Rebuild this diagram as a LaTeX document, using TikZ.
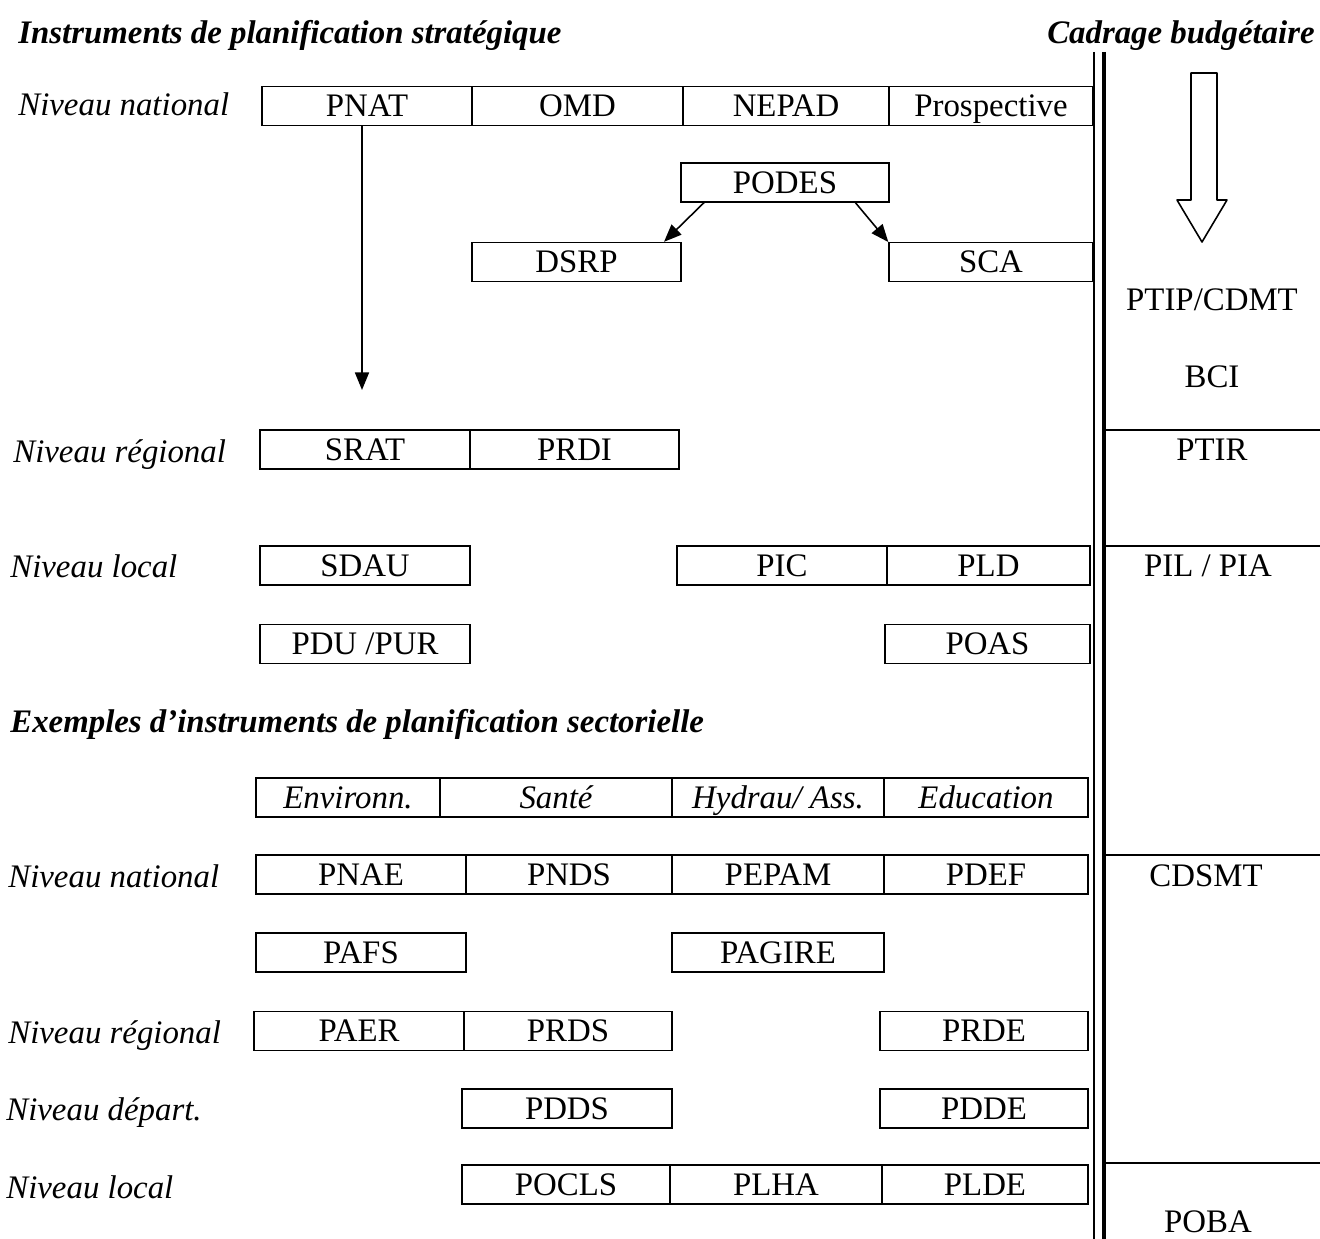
\documentclass[tikz,border=0pt]{standalone}
\usepackage{fontspec}
\setmainfont{Liberation Serif}
\usetikzlibrary{arrows.meta}

\begin{document}
\begin{tikzpicture}[
        x=0.02cm, y=-0.02cm,
        font=\fontsize{18.7}{22}\selectfont,
        box/.style={rectangle, draw, line width=0.8pt, minimum width=4.2cm, minimum height=0.78cm, inner sep=0pt, text height=12.4pt, text depth=0pt},
        label/.style={anchor=base west, inner sep=0pt, font=\fontsize{18.7}{22}\selectfont\itshape},
        title/.style={inner sep=0pt, font=\fontsize{18.7}{22}\selectfont\bfseries\itshape},
        budget/.style={anchor=base, inner sep=0pt},
        arrow/.style={-{Triangle[length=10pt,width=8pt]}, line width=0.9pt}
    ]
        \useasboundingbox (0,0) rectangle (1320,1239);

        % Titres
        \node[title, anchor=base west] (strat) at (18,44) {Instruments de planification stratégique};
        \node[title, anchor=base east] (cadrage) at (1315,44) {Cadrage budgétaire};

        % Niveau national
        \node[label] (lnat) at (18,116) {Niveau national};
        \node[box] (pnat) at (367,106) {PNAT};
        \node[box, minimum width=4.22cm] (omd) at (577.5,106) {OMD};
        \node[box, minimum width=4.12cm] (nepad) at (786,106) {NEPAD};
        \node[box, minimum width=4.08cm] (prosp) at (991,106) {Prospective};

        \node[box, minimum width=4.16cm] (podes) at (785,182.5) {PODES};
        \node[box, minimum width=4.18cm] (dsrp) at (576.5,262) {DSRP};
        \node[box, minimum width=4.08cm] (sca) at (991,262) {SCA};
        \draw[arrow] (podes.194) -- (dsrp.13);
        \draw[arrow] (podes.344) -- (sca.169);

        \coordinate (pnatend) at (362,390);
        \draw[arrow] (pnatend |- pnat.south) -- (pnatend);

        % Niveau regional
        \node[label] (lreg) at (13,463) {Niveau régional};
        \node[box] (srat) at (365,449.5) {SRAT};
        \node[box, minimum width=4.18cm] (prdi) at (574.5,449.5) {PRDI};

        % Niveau local
        \node[label] (lloc) at (10,578) {Niveau local};
        \node[box] (sdau) at (365,565.5) {SDAU};
        \node[box] (pic) at (782,565.5) {PIC};
        \node[box, minimum width=4.06cm] (pld) at (988.5,565.5) {PLD};
        \node[box] (pdupur) at (365,644) {PDU /PUR};
        \node[box, minimum width=4.1cm] (poas) at (987.5,644) {POAS};

        % Planification sectorielle
        \node[title, anchor=base west] (secto) at (10,733) {Exemples d’instruments de planification sectorielle};
        \node[box, font=\fontsize{18.7}{22}\selectfont\itshape, minimum width=3.68cm] (environ) at (348,797.5) {Environn.};
        \node[box, font=\fontsize{18.7}{22}\selectfont\itshape, minimum width=4.64cm] (sante) at (556,797.5) {Santé};
        \node[box, font=\fontsize{18.7}{22}\selectfont\itshape, minimum width=4.24cm] (hydrau) at (778,797.5) {Hydrau/ Ass.};
        \node[box, font=\fontsize{18.7}{22}\selectfont\itshape, minimum width=4.08cm] (educ) at (986,797.5) {Education};

        \node[label] (lnat2) at (8,888) {Niveau national};
        \node[box] (pnae) at (361,874.5) {PNAE};
        \node[box, minimum width=4.12cm] (pnds) at (569,874.5) {PNDS};
        \node[box, minimum width=4.24cm] (pepam) at (778,874.5) {PEPAM};
        \node[box, minimum width=4.08cm] (pdef) at (986,874.5) {PDEF};
        \node[box] (pafs) at (361,952.5) {PAFS};
        \node[box, minimum width=4.24cm] (pagire) at (778,952.5) {PAGIRE};

        \node[label] (lreg2) at (8,1044) {Niveau régional};
        \node[box] (paer) at (359,1031) {PAER};
        \node[box, minimum width=4.16cm] (prds) at (568,1031) {PRDS};
        \node[box, minimum width=4.16cm] (prde) at (984,1031) {PRDE};

        \node[label] (ldep) at (6,1121) {Niveau départ.};
        \node[box] (pdds) at (567,1108.5) {PDDS};
        \node[box, minimum width=4.16cm] (pdde) at (984,1108.5) {PDDE};

        \node[label] (lloc2) at (6,1199) {Niveau local};
        \node[box, minimum width=4.16cm] (pocls) at (566,1184.5) {POCLS};
        \node[box, minimum width=4.24cm] (plha) at (776,1184.5) {PLHA};
        \node[box, minimum width=4.12cm] (plde) at (985,1184.5) {PLDE};

        % Cadrage budgetaire
        \draw[line width=1pt] (1094,52) -- (1094,1239);
        \draw[line width=2.2pt] (1104,52) -- (1104,1239);
        \draw[line width=0.9pt, line join=round] (1191,73) -- (1217,73) -- (1217,200) -- (1227,200) -- (1202,242) -- (1177,200) -- (1191,200) -- cycle;
        \foreach \y in {430,546,855,1163}
            \draw[line width=0.8pt] (1105,\y) -- (1320,\y);

        \node[budget] (ptip) at (1212,311) {PTIP/CDMT};
        \node[budget] (bci) at (1212,388) {BCI};
        \node[budget] (ptir) at (1212,461) {PTIR};
        \node[budget] (pil) at (1208,577) {PIL / PIA};
        \node[budget] (cdsmt) at (1206,887) {CDSMT};
        \node[budget] (poba) at (1208,1233) {POBA};

    \end{tikzpicture}
\end{document}
